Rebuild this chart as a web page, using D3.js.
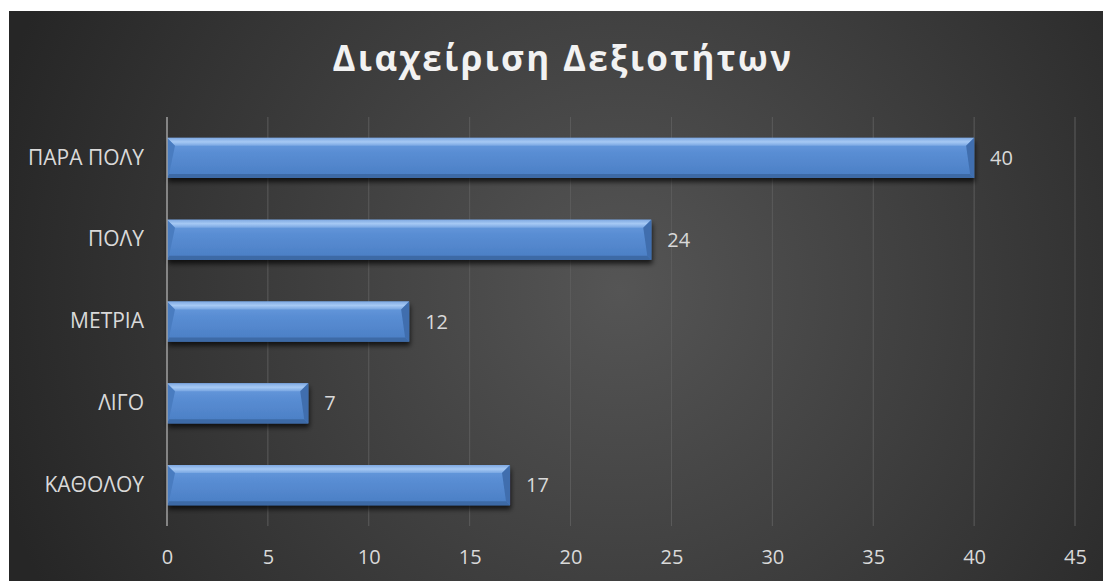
<!DOCTYPE html>
<html>
<head>
<meta charset="utf-8">
<script src="https://cdn.jsdelivr.net/npm/d3@7"></script>
<style>
  html, body { margin: 0; padding: 0; background: #ffffff; }
  svg { display: block; }
</style>
</head>
<body>
<svg id="chart" width="1103" height="581"></svg>
<script>
// Skill-management survey responses
const categories = ["ΠΑΡΑ ΠΟΛΥ", "ΠΟΛΥ", "ΜΕΤΡΙΑ", "ΛΙΓΟ", "ΚΑΘΟΛΟΥ"];
const values = [40, 24, 12, 7, 17];
const xTicks = [0, 5, 10, 15, 20, 25, 30, 35, 40, 45];
const title = "Διαχείριση Δεξιοτήτων";

const W = 1103, H = 581;
const FONT = "'Open Sans', sans-serif";
const svg = d3.select("#chart");
const defs = svg.append("defs");

// Dark radial backdrop
const bg = defs.append("radialGradient").attr("id", "bgGrad")
  .attr("gradientUnits", "userSpaceOnUse")
  .attr("cx", 620).attr("cy", 290).attr("r", 650);
bg.append("stop").attr("offset", "0%").attr("stop-color", "#555555");
bg.append("stop").attr("offset", "100%").attr("stop-color", "#262626");

// Bar face gradient
const face = defs.append("linearGradient").attr("id", "barFace")
  .attr("x1", 0).attr("y1", 0).attr("x2", 0).attr("y2", 1);
face.append("stop").attr("offset", "0%").attr("stop-color", "#6c9fe0");
face.append("stop").attr("offset", "35%").attr("stop-color", "#5a8ed4");
face.append("stop").attr("offset", "100%").attr("stop-color", "#4a7ec4");

const topG = defs.append("linearGradient").attr("id", "barTop")
  .attr("x1", 0).attr("y1", 0).attr("x2", 0).attr("y2", 1);
topG.append("stop").attr("offset", "0%").attr("stop-color", "#7fa9e2");
topG.append("stop").attr("offset", "50%").attr("stop-color", "#a6c9f4");
topG.append("stop").attr("offset", "100%").attr("stop-color", "#78a6e2");

const shadow = defs.append("filter").attr("id", "barShadow")
  .attr("x", "-5%").attr("y", "-30%").attr("width", "110%").attr("height", "180%");
shadow.append("feGaussianBlur").attr("in", "SourceAlpha").attr("stdDeviation", 2.5).attr("result", "b");
shadow.append("feOffset").attr("in", "b").attr("dx", 1).attr("dy", 4).attr("result", "o");
shadow.append("feComponentTransfer").attr("in", "o").attr("result", "s")
  .append("feFuncA").attr("type", "linear").attr("slope", 0.7);
const merge = shadow.append("feMerge");
merge.append("feMergeNode").attr("in", "s");
merge.append("feMergeNode").attr("in", "SourceGraphic");

// Chart panel
svg.append("rect").attr("x", 9).attr("y", 11).attr("width", W - 9).attr("height", H - 11)
  .attr("fill", "url(#bgGrad)");

// Title
svg.append("text")
  .attr("x", 563).attr("y", 71)
  .attr("text-anchor", "middle")
  .attr("font-family", FONT)
  .attr("font-weight", "bold")
  .attr("font-size", 35)
  .attr("letter-spacing", 2.3)
  .attr("fill", "#f2f2f2")
  .text(title);

const plot = { left: 167, right: 1075, top: 117, bottom: 526 };

const x = d3.scaleLinear().domain([0, 45]).range([plot.left, plot.right]);
const y = d3.scaleBand().domain(categories).range([plot.top, plot.bottom]).paddingInner(0.51).paddingOuter(0.255);

// Vertical gridlines
svg.append("g").selectAll("line").data(xTicks.slice(1)).join("line")
  .attr("x1", d => x(d)).attr("x2", d => x(d))
  .attr("y1", plot.top).attr("y2", plot.bottom)
  .attr("stroke", "#5c5c5c").attr("stroke-width", 1);

// Value axis labels
const xAxis = svg.append("g")
  .attr("transform", `translate(0,${plot.bottom})`)
  .call(d3.axisBottom(x).tickValues(xTicks).tickSize(0).tickPadding(24));
xAxis.select(".domain").remove();
xAxis.selectAll("text")
  .attr("font-family", FONT)
  .attr("font-size", 20).attr("fill", "#d9d9d9");

// Category axis
const yAxis = svg.append("g")
  .attr("transform", `translate(${plot.left},0)`)
  .call(d3.axisLeft(y).tickSize(0).tickPadding(23));
yAxis.select(".domain").remove();
yAxis.selectAll("text")
  .attr("font-family", FONT)
  .attr("font-size", 21).attr("fill", "#d9d9d9");

// Bevelled bars
const rows = categories.map((c, i) => ({ c, v: values[i] }));
const bars = svg.append("g").selectAll("g").data(rows)
  .join("g").attr("filter", "url(#barShadow)");

const bc = 8;   // corner bevel size
const bt = 8, bb = 4, bl = 2, br = 4;
bars.append("rect")
  .attr("x", x(0)).attr("y", d => y(d.c))
  .attr("width", d => x(d.v) - x(0)).attr("height", y.bandwidth())
  .attr("fill", "url(#barFace)");
// top bevel
bars.append("path").attr("fill", "url(#barTop)")
  .attr("d", d => {
    const x0 = x(0), x1 = x(d.v), y0 = y(d.c);
    return `M${x0},${y0}L${x1},${y0}L${x1 - bc},${y0 + bt}L${x0 + bc},${y0 + bt}Z`;
  });
// bottom bevel
bars.append("path").attr("fill", "#3d6aa6")
  .attr("d", d => {
    const x0 = x(0), x1 = x(d.v), y1 = y(d.c) + y.bandwidth();
    return `M${x0},${y1}L${x1},${y1}L${x1 - br},${y1 - bb}L${x0 + bl},${y1 - bb}Z`;
  });
// left bevel
bars.append("path").attr("fill", "#4a7cc0")
  .attr("d", d => {
    const x0 = x(0), y0 = y(d.c), y1 = y0 + y.bandwidth();
    return `M${x0},${y0}L${x0 + bc},${y0 + bt}L${x0 + bl},${y1 - bb}L${x0},${y1}Z`;
  });
// right bevel
bars.append("path").attr("fill", "#3f6eae")
  .attr("d", d => {
    const x1 = x(d.v), y0 = y(d.c), y1 = y0 + y.bandwidth();
    return `M${x1},${y0}L${x1 - bc},${y0 + bt}L${x1 - br},${y1 - bb}L${x1},${y1}Z`;
  });

// Category axis line
svg.append("line")
  .attr("x1", x(0)).attr("x2", x(0)).attr("y1", plot.top).attr("y2", plot.bottom)
  .attr("stroke", "#a0a0a0").attr("stroke-width", 1.5);

// Value labels
svg.append("g").selectAll("text").data(rows)
  .join("text")
  .attr("x", d => x(d.v) + 16)
  .attr("y", d => y(d.c) + y.bandwidth() / 2)
  .attr("dy", "0.35em")
  .attr("font-family", FONT)
  .attr("font-size", 20).attr("fill", "#d9d9d9")
  .text(d => d.v);
</script>
</body>
</html>
